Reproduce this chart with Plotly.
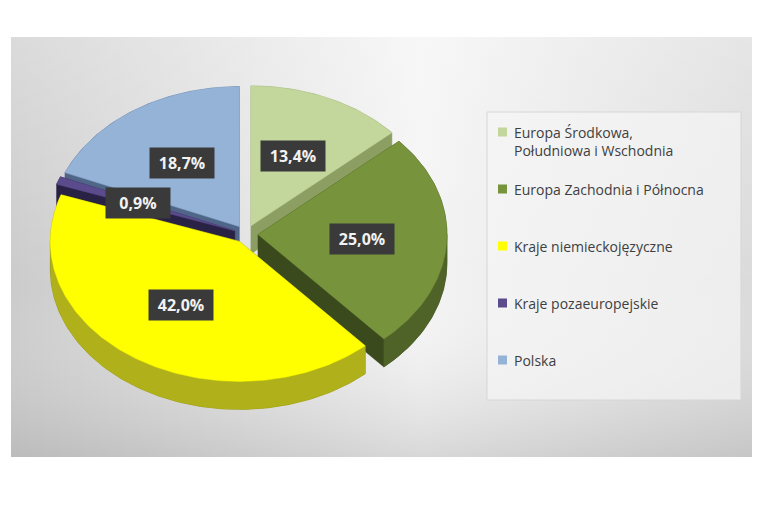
import numpy as np
from plotly import graph_objects as go

# dane: udział regionów (%)
categories = ["Europa Środkowa, Południowa i Wschodnia", "Europa Zachodnia i Północna",
              "Kraje niemieckojęzyczne", "Kraje pozaeuropejskie", "Polska"]
shares = [13.4, 25.0, 42.0, 0.9, 18.7]
share_labels = ["13,4%", "25,0%", "42,0%", "0,9%", "18,7%"]

top_colors = ["#c3d69b", "#77933c", "#ffff00", "#5b4a8c", "#95b3d7"]
wall_colors = ["#9fb272", "#4f6228", "#b0b01a", "#3a2f5c", "#7393bb"]
face_colors = ["#8c9e62", "#3a4a1c", "#86860c", "#2a2244", "#4f6688"]

# geometria wykresu 3D (w pikselach)
cx, cy = 246, 234
rx, ry = 189, 140
depth = 28
explode = 12


def pt(th, r, sx, sy, dz=0):
    return cx + r * rx * np.sin(th) + sx, cy - r * ry * np.cos(th) + sy + dz


def hull(xs, ys):
    pts = sorted(set(zip(np.round(xs, 3), np.round(ys, 3))))

    def cross(o, a, b):
        return (a[0] - o[0]) * (b[1] - o[1]) - (a[1] - o[1]) * (b[0] - o[0])
    lower, upper = [], []
    for p in pts:
        while len(lower) >= 2 and cross(lower[-2], lower[-1], p) <= 0:
            lower.pop()
        lower.append(p)
    for p in reversed(pts):
        while len(upper) >= 2 and cross(upper[-2], upper[-1], p) <= 0:
            upper.pop()
        upper.append(p)
    h = lower[:-1] + upper[:-1]
    h.append(h[0])
    return [p[0] for p in h], [p[1] for p in h]


fig = go.Figure()

# tło z gradientem
fig.add_trace(go.Scatter(
    x=[11, 755, 755, 11, 11], y=[37, 37, 457, 457, 37], fill="toself", mode="lines",
    line=dict(width=0), hoverinfo="skip", showlegend=False,
    fillgradient=dict(type="horizontal", start=11, stop=755,
                      colorscale=[[0, "#cbcbcb"], [0.55, "#f4f4f4"], [1, "#dadada"]])))
fig.add_trace(go.Scatter(
    x=[11, 755, 755, 11, 11], y=[37, 37, 457, 457, 37], fill="toself", mode="lines",
    line=dict(width=0), hoverinfo="skip", showlegend=False,
    fillgradient=dict(type="vertical", start=37, stop=457,
                      colorscale=[[0, "rgba(255,255,255,0.3)"], [0.6, "rgba(255,255,255,0)"],
                                  [1, "rgba(150,150,150,0.3)"]])))

total = sum(shares)
bounds = np.concatenate([[0], np.cumsum(shares)]) / total * 2 * np.pi
slices = []
for i in range(len(shares)):
    a, b = bounds[i], bounds[i + 1]
    mid = (a + b) / 2
    sx, sy = explode * np.sin(mid), -explode * (ry / rx) * np.cos(mid)
    slices.append((np.cos(mid), i, a, b, mid, sx, sy))

annotations = []
# rysowanie od tyłu do przodu
for _, i, a, b, mid, sx, sy in sorted(slices, reverse=True):
    th = np.linspace(a, b, max(int((b - a) * 60), 4))
    ax_, ay_ = pt(th, 1, sx, sy)
    x0, y0 = pt(0, 0, sx, sy)
    tx = np.concatenate([[x0], ax_, [x0]])
    ty = np.concatenate([[y0], ay_, [y0]])

    hx, hy = hull(np.concatenate([tx, tx]), np.concatenate([ty, ty + depth]))
    fig.add_trace(go.Scatter(x=hx, y=hy, fill="toself", mode="lines", fillcolor=face_colors[i],
                             line=dict(width=0.5, color=face_colors[i]),
                             hoverinfo="skip", showlegend=False))

    lo, hi = max(a, np.pi / 2), min(b, 3 * np.pi / 2)
    if hi > lo:
        wt = np.linspace(lo, hi, max(int((hi - lo) * 60), 4))
        wx, wy = pt(wt, 1, sx, sy)
        fig.add_trace(go.Scatter(
            x=np.concatenate([wx, wx[::-1], wx[:1]]),
            y=np.concatenate([wy, wy[::-1] + depth, wy[:1]]),
            fill="toself", mode="lines", fillcolor=wall_colors[i],
            line=dict(width=0.5, color=wall_colors[i]), hoverinfo="skip", showlegend=False))

    fig.add_trace(go.Scatter(x=tx, y=ty, fill="toself", mode="lines", fillcolor=top_colors[i],
                             line=dict(width=0.5, color=top_colors[i]),
                             name=categories[i], text=share_labels[i], hoverinfo="name+text",
                             showlegend=False))

    lx, ly = pt(mid, 0.55, sx, sy)
    annotations.append(dict(x=lx, y=ly, text="<b>" + share_labels[i] + "</b>", showarrow=False,
                            font=dict(family="Open Sans", size=16, color="#f2f2f2"),
                            bgcolor="#3a3a3a", borderpad=4, width=56))

# legenda
shapes = [dict(type="rect", x0=487, x1=741, y0=112, y1=400, fillcolor="rgba(245,245,245,0.7)",
               line=dict(color="#d6d6d6", width=1))]
for i, name in enumerate(categories):
    yc = 132 + 57 * i
    shapes.append(dict(type="rect", x0=498, x1=507, y0=yc - 4.5, y1=yc + 4.5,
                       fillcolor=top_colors[i], line=dict(width=0)))
    multi = ", " in name
    annotations.append(dict(x=512, y=yc - 11 if multi else yc, xanchor="left",
                            yanchor="top" if multi else "middle", align="left",
                            text=name.replace(", ", ",<br>"), showarrow=False,
                            font=dict(family="Open Sans", size=14, color="#404040")))

# strona ma 8 px marginesu, więc zakresy osi są przesunięte o 8 px
fig.update_layout(
    width=760, height=506, margin=dict(l=0, r=0, t=0, b=0),
    paper_bgcolor="white", plot_bgcolor="white",
    xaxis=dict(range=[8, 768], visible=False, fixedrange=True),
    yaxis=dict(range=[514, 8], visible=False, fixedrange=True),
    shapes=shapes, annotations=annotations, showlegend=False)

fig.write_html("out.html")
